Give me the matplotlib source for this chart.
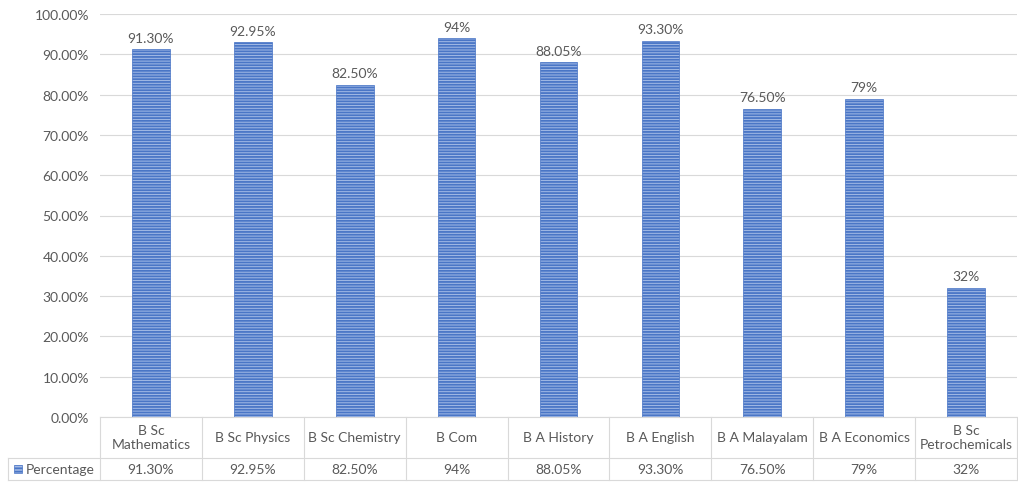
import matplotlib
matplotlib.use("Agg")
import matplotlib.pyplot as plt
from matplotlib.patches import Rectangle
from matplotlib.lines import Line2D

categories = ["B Sc\nMathematics", "B Sc Physics", "B Sc Chemistry", "B Com", "B A History",
              "B A English", "B A Malayalam", "B A Economics", "B Sc\nPetrochemicals"]
values = [91.30, 92.95, 82.50, 94.0, 88.05, 93.30, 76.50, 79.0, 32.0]
labels = ["91.30%", "92.95%", "82.50%", "94%", "88.05%", "93.30%", "76.50%", "79%", "32%"]
series_name = "Percentage"
yticks = [0, 10, 20, 30, 40, 50, 60, 70, 80, 90, 100]

plt.rcParams['font.family'] = ['Lato', 'DejaVu Sans']
plt.rcParams['hatch.linewidth'] = 1.3
plt.rcParams['hatch.color'] = '#4472c4'
TXT = '#595959'
GRID = '#d9d9d9'
W, H = 1018, 485
fig = plt.figure(figsize=(W / 100, H / 100), dpi=100)

x0, x1 = 100, 1017
ytop, ybot = 15, 418
ax = fig.add_axes([x0 / W, 1 - ybot / H, (x1 - x0) / W, (ybot - ytop) / H])
n = len(categories)
xs = list(range(n))
ax.bar(xs, values, width=0.37, color='#a4bbe6', edgecolor='#4a76c6', hatch='------', linewidth=0.5, zorder=3)
for x, v, l in zip(xs, values, labels):
    ax.annotate(l, (x, v), xytext=(0, 4), textcoords='offset points', ha='center', va='bottom',
                fontsize=10, color=TXT)
ax.set_xlim(-0.5, n - 0.5)
ax.set_ylim(0, 100)
ax.set_yticks(yticks)
ax.set_yticklabels([f"{t:.2f}%" for t in yticks], fontsize=10, color=TXT)
ax.tick_params(axis='y', length=0, pad=8)
ax.tick_params(axis='x', length=0, labelbottom=False)
ax.grid(axis='y', color=GRID, linewidth=0.8, zorder=0)
for s in ['top', 'right', 'left']:
    ax.spines[s].set_visible(False)
ax.spines['bottom'].set_color(GRID)

# data table
col_w = (x1 - x0) / n
yh1, yh2 = 459, 481
lx = 8
def fx(px): return px / W
def fy(py): return 1 - py / H
lines = []
for i in range(n + 1):
    xx = x0 + i * col_w
    lines.append(Line2D([fx(xx), fx(xx)], [fy(ybot), fy(yh2)], color=GRID, lw=0.8))
lines.append(Line2D([fx(lx), fx(x1)], [fy(yh1), fy(yh1)], color=GRID, lw=0.8))
lines.append(Line2D([fx(lx), fx(x1)], [fy(yh2), fy(yh2)], color=GRID, lw=0.8))
lines.append(Line2D([fx(lx), fx(lx)], [fy(yh1), fy(yh2)], color=GRID, lw=0.8))
for ln in lines:
    fig.add_artist(ln)
for i, (c, l) in enumerate(zip(categories, labels)):
    cx = x0 + (i + 0.5) * col_w
    fig.text(fx(cx), fy((ybot + yh1) / 2), c, ha='center', va='center', fontsize=10, color=TXT,
             linespacing=1.2)
    fig.text(fx(cx), fy((yh1 + yh2) / 2), l, ha='center', va='center', fontsize=10, color=TXT)
fig.add_artist(Rectangle((fx(14), fy(474)), 8 / W, 8 / H, facecolor='#a4bbe6', edgecolor='#4a76c6',
                         hatch='-----', lw=0.5, transform=fig.transFigure))
fig.text(fx(26), fy((yh1 + yh2) / 2), series_name, ha='left', va='center', fontsize=10, color=TXT)

fig.savefig("out.png", dpi=100)
